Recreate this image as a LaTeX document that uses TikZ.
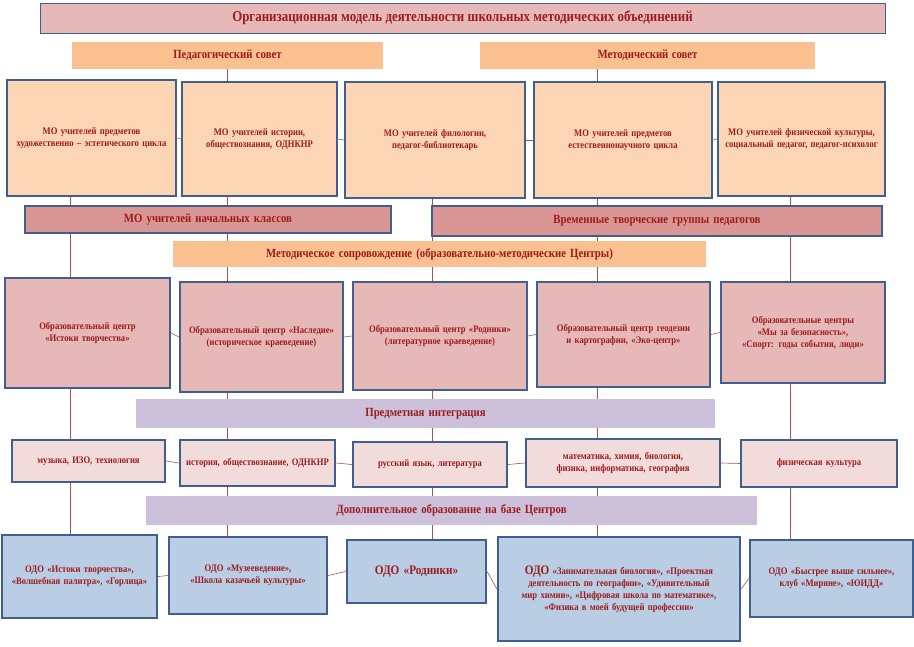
\documentclass[tikz,border=0pt]{standalone}
\usepackage{fontspec}
\setmainfont{Liberation Serif}[FakeStretch=0.86]
\usetikzlibrary{backgrounds}
\definecolor{txt}{HTML}{9C1C1C}
\definecolor{frame}{HTML}{3F5F8F}
\definecolor{peach}{HTML}{FCD5B4}
\definecolor{orng}{HTML}{FAC090}
\definecolor{rose}{HTML}{E6B8B7}
\definecolor{darkrose}{HTML}{DA9694}
\definecolor{lilac}{HTML}{CCC0DA}
\definecolor{pale}{HTML}{F2DCDB}
\definecolor{sky}{HTML}{B9CDE5}
\definecolor{link}{HTML}{B05050}
\tikzset{
  box/.style={draw=frame, line width=2.2pt, text=txt, font=\bfseries, align=center, inner sep=2pt},
  band/.style={text=txt, font=\bfseries, align=center, inner sep=0pt},
  lnk/.style={link, line width=0.6pt}
}
% box: name, x1, y1, x2, y2
\newcommand{\boxat}[6]{\node[#6, minimum width=#4-#2, minimum height=#5-#3, text width=#4-#2-8] (#1) at ({(#2+#4)/2},{(#3+#5)/2})}
\begin{document}
\begin{tikzpicture}[x=1pt,y=-1pt]
\useasboundingbox (0,0) rectangle (914,647);

\boxat{title}{40}{3}{885}{33}{box, fill=rose, line width=0.8pt} {\fontsize{15}{18}\selectfont Организационная модель деятельности школьных методических объединений};
\boxat{ped}{72}{42}{383}{69}{band, fill=orng} {\fontsize{12.5}{15}\selectfont Педагогический совет};
\boxat{met}{480}{42}{815}{69}{band, fill=orng} {\fontsize{12.5}{15}\selectfont Методический совет};

% MO
\begin{scope}[every node/.append style={font=\bfseries\fontsize{12.5}{19}\selectfont}]
\boxat{m1}{7}{80}{176}{196}{box, fill=peach} {МО учителей предметов художественно -- эстетического цикла};
\boxat{m2}{182}{82}{337}{196}{box, fill=peach} {МО учителей истории, обществознания, ОДНКНР};
\boxat{m3}{345}{82}{525}{198}{box, fill=peach} {МО учителей филологии, педагог-библиотекарь};
\boxat{m4}{534}{82}{712}{198}{box, fill=peach} {МО учителей предметов естественнонаучного цикла};
\boxat{m5}{718}{82}{885}{196}{box, fill=peach} {МО учителей физической культуры, социальный педагог, педагог-психолог};
\end{scope}
\boxat{nach}{25}{206}{391}{233}{box, fill=darkrose, font=\bfseries\fontsize{12.5}{15}\selectfont} {МО учителей начальных классов};
\boxat{vtg}{432}{206}{882}{236}{box, fill=darkrose, font=\bfseries\fontsize{12.5}{15}\selectfont} {Временные творческие группы педагогов};
\boxat{sopr}{173}{241}{706}{267}{band, fill=orng, font=\bfseries\fontsize{12.5}{15}\selectfont} {Методическое сопровождение (образовательно-методические Центры)};

% centres
\begin{scope}[every node/.append style={font=\bfseries\fontsize{13}{19.5}\selectfont}]
\boxat{c1}{5}{278}{170}{388}{box, fill=rose} {Образовательный центр «Истоки творчества»};
\boxat{c2}{180}{282}{343}{392}{box, fill=rose} {Образовательный центр «Наследие» (историческое краеведение)};
\boxat{c3}{353}{282}{527}{390}{box, fill=rose} {Образовательный центр «Родники» (литературное краеведение)};
\boxat{c4}{537}{282}{710}{387}{box, fill=rose} {Образовательный центр геодезии и картографии, «Эко-центр»};
\boxat{c5}{721}{282}{885}{383}{box, fill=rose} {Образовательные центры «Мы за безопасность», «Спорт: годы события, люди»};
\end{scope}
\boxat{integ}{136}{399}{715}{428}{band, fill=lilac, font=\bfseries\fontsize{12.5}{15}\selectfont} {Предметная интеграция};

% subjects
\begin{scope}[every node/.append style={font=\bfseries\fontsize{10}{14}\selectfont}]
\boxat{s1}{12}{440}{165}{482}{box, fill=pale} {музыка, ИЗО, технология};
\boxat{s2}{180}{440}{335}{486}{box, fill=pale} {история, обществознание, ОДНКНР};
\boxat{s3}{353}{442}{507}{487}{box, fill=pale} {русский язык, литература};
\boxat{s4}{526}{439}{720}{487}{box, fill=pale} {математика, химия, биология, физика, информатика, география};
\boxat{s5}{741}{440}{897}{487}{box, fill=pale} {физическая культура};
\end{scope}
\boxat{dop}{146}{496}{757}{525}{band, fill=lilac, font=\bfseries\fontsize{12.5}{15}\selectfont} {Дополнительное образование на базе Центров};

% ODO
\begin{scope}[every node/.append style={font=\bfseries\fontsize{10.5}{16.5}\selectfont}]
\boxat{d1}{2}{535}{157}{618}{box, fill=sky} {ОДО «Истоки творчества», «Волшебная палитра», «Горлица»};
\boxat{d2}{169}{537}{327}{614}{box, fill=sky} {ОДО «Музееведение», «Школа казачьей культуры»};
\boxat{d3}{347}{540}{486}{603}{box, fill=sky, font=\bfseries\fontsize{13}{16}\selectfont} {ОДО «Родники»};
\boxat{d4}{498}{537}{740}{641}{box, fill=sky} {{\fontsize{13}{16}\selectfont ОДО} «Занимательная биология», «Проектная деятельность по географии», «Удивительный мир химии», «Цифровая школа по математике», «Физика в моей будущей профессии»};
\boxat{d5}{750}{540}{913}{617}{box, fill=sky} {ОДО «Быстрее выше сильнее», клуб «Миряне», «ЮИДД»};
\end{scope}

\begin{scope}[on background layer]
\draw[lnk] (m1.south -| 70,0) -- (d1.north -| 70,0);
\draw[lnk] (ped.south) -- (ped.south |- d2.north);
\draw[lnk] (m3.south -| 432,0) -- (d3.north -| 432,0);
\draw[lnk] (met.south -| 597,0) -- (d4.north -| 597,0);
\draw[lnk] (m5.south -| 790,0) -- (d5.north -| 790,0);
\foreach \r in {m,c,s,d}{
  \draw[lnk] (\r1.east) -- (\r2.west);
  \draw[lnk] (\r2.east) -- (\r3.west);
  \draw[lnk] (\r3.east) -- (\r4.west);
  \draw[lnk] (\r4.east) -- (\r5.west);
}
\end{scope}
\end{tikzpicture}
\end{document}
